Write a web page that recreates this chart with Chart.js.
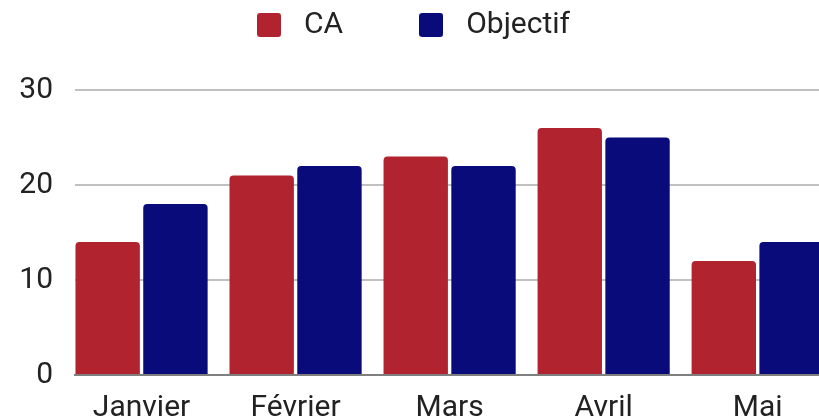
<!DOCTYPE html>
<html><head><meta charset="utf-8">
<script src="https://cdn.jsdelivr.net/npm/chart.js@4.4.1/dist/chart.umd.min.js"></script>
<style>html,body{margin:0;padding:0;overflow:hidden;background:#fff}#wrap{width:819px;height:441px}</style>
</head><body><div id="wrap"><canvas id="c" width="819" height="441"></canvas></div>
<script>
const categories = ['Janvier', 'Février', 'Mars', 'Avril', 'Mai'];
const caValues = [14, 21, 23, 26, 12];
const objectifValues = [18, 22, 22, 25, 14];
const yTickValues = [0, 10, 20, 30];
const seriesNames = ['CA', 'Objectif'];
const seriesColors = ['#B1232F', '#0A0B7A'];

function legendIcon(color) {
  const c = document.createElement('canvas');
  c.width = 24; c.height = 24;
  const x = c.getContext('2d');
  x.fillStyle = color;
  x.beginPath();
  x.roundRect(0, 0, 24, 24, 3);
  x.fill();
  return c;
}
const icons = seriesColors.map(legendIcon);

const legendSpacing = {
  id: 'legendSpacing',
  beforeInit(chart) {
    const fit = chart.legend.fit;
    chart.legend.fit = function () { fit.call(this); this.height += 40; };
  }
};

Chart.defaults.font.family = 'Roboto';
Chart.defaults.font.size = 30;
Chart.defaults.color = '#222222';

new Chart(document.getElementById('c'), {
  type: 'bar',
  data: {
    labels: categories,
    datasets: [
      { label: seriesNames[0], data: caValues, backgroundColor: seriesColors[0], borderRadius: 4 },
      { label: seriesNames[1], data: objectifValues, backgroundColor: seriesColors[1], borderRadius: 4 }
    ]
  },
  options: {
    responsive: false,
    animation: false,
    devicePixelRatio: 1,
    layout: { padding: { top: -58, left: 0, right: 0, bottom: 0 } },
    datasets: { bar: { categoryPercentage: 0.88, barPercentage: 0.95 } },
    plugins: {
      legend: {
        position: 'top',
        labels: {
          usePointStyle: true,
          pointStyleWidth: 40,
          boxHeight: 24,
          padding: 68,
          color: '#222222',
          font: { size: 30, family: 'Roboto' },
          generateLabels(chart) {
            const items = Chart.defaults.plugins.legend.labels.generateLabels(chart);
            items.forEach((it, i) => { it.pointStyle = icons[i]; });
            return items;
          }
        }
      },
      tooltip: { enabled: false }
    },
    scales: {
      x: {
        grid: { display: false, drawTicks: false },
        border: { display: true, color: '#7f7f7f', width: 2 },
        ticks: { padding: 15, maxRotation: 0, autoSkip: false, font: { size: 30 } },
        afterBuildTicks(scale) { scale._startValue = -0.432; scale._valueRange = 4.83; }
      },
      y: {
        min: 0, max: 30,
        afterBuildTicks(scale) { scale.ticks = yTickValues.map(v => ({ value: v })); },
        ticks: { padding: 22, font: { size: 30 } },
        grid: { color: '#c0c0c0', lineWidth: 2, drawTicks: false },
        border: { display: false },
        afterFit(s) { s.width = 75; }
      }
    }
  },
  plugins: [legendSpacing]
});
</script>
</body></html>
